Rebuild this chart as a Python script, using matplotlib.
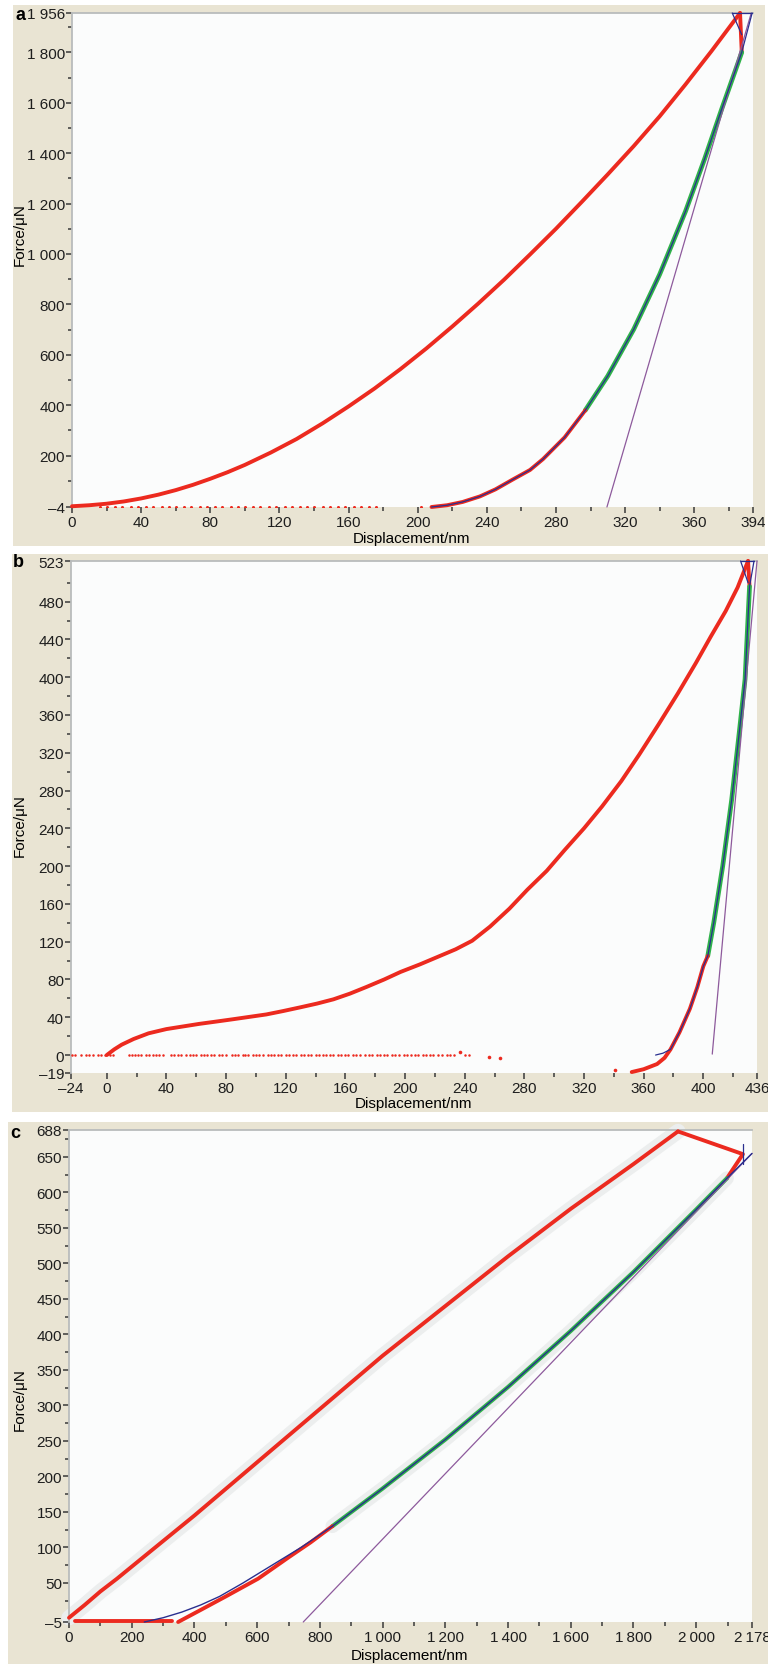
import matplotlib
matplotlib.use("Agg")
import matplotlib.pyplot as plt
from matplotlib.patches import Rectangle

plt.rcParams['font.family'] = ['Liberation Sans', 'DejaVu Sans']

W, H = 768, 1665
BEIGE = '#e9e4d3'
PLOT_BG = '#fbfcfc'
RED = '#ec2a1f'
GREEN = '#2fb24a'
NAVY = '#2a2f8f'
PURPLE = '#8d5a9c'
TICK = '#3a3a3a'

# ---------------- panel a ----------------
a_load_x = [0, 10, 20, 30, 40, 50, 60, 70, 80, 90, 100, 115, 130, 145, 160, 175,
            190, 205, 220, 235, 250, 265, 280, 295, 310, 325, 340, 355, 370, 386.5]
a_load_y = [-1, 3, 9, 18, 30, 45, 63, 84, 108, 134, 163, 212, 266, 328, 395, 466,
            543, 625, 712, 803, 898, 998, 1100, 1207, 1316, 1428, 1546, 1673, 1805, 1956]
a_peak_x = [386.5, 387.5]
a_peak_y = [1956, 1800]
a_green_x = [387.5, 376, 366, 355, 340, 325, 310, 297]
a_green_y = [1800, 1577, 1377, 1170, 919, 701, 516, 380]
a_tail_x = [297, 285, 272.5, 265, 255, 245, 236, 226, 217, 208]
a_tail_y = [380, 272, 186, 143, 105, 66, 38, 16, 3, -4]
a_fit_x = [393.5] + a_green_x + a_tail_x[1:]
a_fit_y = [1956] + a_green_y + a_tail_y[1:]
a_tan_x = [309.5, 393]
a_tan_y = [-4, 1956]
a_base_x = [16, 20, 25, 29, 34, 38, 43, 47, 52, 56, 60, 65, 69, 74, 78, 83, 87,
            92, 96, 100, 105, 109, 114, 118, 123, 127, 132, 136, 140, 145, 149,
            154, 158, 163, 167, 172, 176, 202]
a_base_level = -3
a_xticks = [0, 40, 80, 120, 160, 200, 240, 280, 320, 360, 394]
a_xlabels = ['0', '40', '80', '120', '160', '200', '240', '280', '320', '360', '394']
a_yticks = [-4, 200, 400, 600, 800, 1000, 1200, 1400, 1600, 1800, 1956]
a_ylabels = ['\u20134', '200', '400', '600', '800', '1 000', '1 200', '1 400',
             '1 600', '1 800', '1 956']
a_xminor = [20, 60, 100, 140, 180, 220, 260, 300, 340, 380]
a_yminor = [100, 300, 500, 700, 900, 1100, 1300, 1500, 1700, 1900]

# ---------------- panel b ----------------
b_load_x = [0, 5, 10, 18, 28, 40, 52, 62, 75, 85, 96, 107, 118, 130, 141, 152,
            163, 174, 186, 197, 210, 222, 234, 245, 257, 270, 282, 295, 307, 320,
            332, 345, 357, 370, 383, 395, 405, 415, 423, 430]
b_load_y = [0, 6, 11, 17, 23, 27.5, 30.5, 33, 35.8, 38, 40.5, 43, 46.5, 50.6,
            54.5, 59, 65, 72, 80, 88, 96, 104, 112, 121, 136, 155, 175, 195, 217,
            240, 263, 290, 318, 350, 383, 415, 443, 470, 495, 523]
b_peak_x = [430, 431]
b_peak_y = [523, 496]
b_green_x = [431, 428, 424, 419, 413, 407, 403]
b_green_y = [496, 398, 340, 270, 200, 140, 105]
b_tail_x = [403, 400, 396, 391, 384, 378, 374, 369, 360, 352]
b_tail_y = [105, 94, 72, 49, 24, 6, -3, -9.5, -15, -18]
b_fit_x = [434] + b_green_x + [400, 396, 391, 384, 378, 373, 368]
b_fit_y = [523] + b_green_y + [94, 72, 49, 24, 6, 2, 0]
b_tan_x = [406, 436]
b_tan_y = [1, 523]
b_base_x = [-23, -21, -17, -14, -12, -9, -6, -4, -1, 2, 4, 15, 17, 19, 21, 23,
            26, 28, 31, 33, 35, 38, 43, 45, 48, 50, 53, 56, 58, 60, 63, 65, 67,
            70, 72, 75, 77, 80, 84, 86, 88, 91, 93, 95, 98, 100, 102, 105, 108,
            110, 112, 115, 117, 120, 122, 125, 127, 130, 132, 135, 137, 140, 142,
            145, 147, 150, 152, 155, 157, 160, 162, 165, 167, 170, 173, 176, 178,
            181, 183, 186, 188, 191, 193, 196, 199, 201, 204, 207, 209, 212, 214,
            217, 219, 222, 225, 228, 230, 233, 240, 243]
b_base_level = 0
b_stray_x = [237, 256, 264, 341]
b_stray_y = [3, -2, -3, -16]
b_xticks = [-24, 0, 40, 80, 120, 160, 200, 240, 280, 320, 360, 400, 436]
b_xlabels = ['\u201324', '0', '40', '80', '120', '160', '200', '240', '280',
             '320', '360', '400', '436']
b_yticks = [-19, 0, 40, 80, 120, 160, 200, 240, 280, 320, 360, 400, 440, 480, 523]
b_ylabels = ['\u201319', '0', '40', '80', '120', '160', '200', '240', '280',
             '320', '360', '400', '440', '480', '523']
b_xminor = [20, 60, 100, 140, 180, 220, 260, 300, 340, 380, 420]
b_yminor = [20, 60, 100, 140, 180, 220, 260, 300, 340, 380, 420, 460, 500]

# ---------------- panel c ----------------
c_load_x = [0, 50, 100, 153, 250, 400, 600, 800, 1000, 1200, 1400, 1600, 1800, 1942]
c_load_y = [1, 19, 38, 56, 91, 145, 220, 295, 370, 440, 510, 577, 640, 686]
c_peak_x = [1942, 2149, 2098]
c_peak_y = [686, 654, 620]
c_green_x = [2098, 2000, 1800, 1600, 1400, 1200, 1000, 840]
c_green_y = [620, 576, 488, 405, 326, 252, 183, 130]
c_tail_x = [840, 770, 700, 603, 500, 420, 348]
c_tail_y = [130, 107, 86, 56, 31, 12, -5]
c_flat_x = [19, 328]
c_flat_y = [-4, -4]
c_fit_x = [2178] + c_green_x + [740, 640, 555, 480, 420, 360, 300, 240]
c_fit_y = [655] + c_green_y + [100, 73, 50, 31, 19, 9, 1, -5]
c_tan_x = [747, 2178]
c_tan_y = [-5, 655]
c_xticks = [0, 200, 400, 600, 800, 1000, 1200, 1400, 1600, 1800, 2000, 2178]
c_xlabels = ['0', '200', '400', '600', '800', '1\u2009000', '1\u2009200',
             '1\u2009400', '1\u2009600', '1\u2009800', '2\u2009000', '2\u2009178']
c_yticks = [-5, 50, 100, 150, 200, 250, 300, 350, 400, 450, 500, 550, 600, 650, 688]
c_ylabels = ['\u20135', '50', '100', '150', '200', '250', '300', '350', '400',
             '450', '500', '550', '600', '650', '688']
c_xminor = [100, 300, 500, 700, 900, 1100, 1300, 1500, 1700, 1900, 2100]
c_yminor = [25, 75, 125, 175, 225, 275, 325, 375, 425, 475, 525, 575, 625, 675]


def fx(px):
    return px / W


def fy(py):
    return 1 - py / H


fig = plt.figure(figsize=(W / 100, H / 100), dpi=100)
fig.patch.set_facecolor('white')

# beige backgrounds behind each panel (pixel boxes: x0, y0, x1, y1)
for x0, y0, x1, y1 in [(13, 6, 765, 547), (12, 555, 768, 1113), (8, 1123, 768, 1665)]:
    fig.add_artist(Rectangle((fx(x0), fy(y1)), fx(x1 - x0), (y1 - y0) / H,
                             transform=fig.transFigure, facecolor=BEIGE,
                             edgecolor='none', zorder=0))


def make_axes(box, xlim, ylim, xt, xl, yt, yl, xmin, ymin):
    x0, y0, x1, y1 = box
    ax = fig.add_axes([fx(x0), fy(y1), fx(x1 - x0), (y1 - y0) / H])
    ax.set_facecolor(PLOT_BG)
    ax.set_xlim(*xlim)
    ax.set_ylim(*ylim)
    ax.set_xticks(xt)
    ax.set_xticklabels(xl)
    ax.set_yticks(yt)
    ax.set_yticklabels(yl)
    ax.set_xticks(xmin, minor=True)
    ax.set_yticks(ymin, minor=True)
    ax.tick_params(which='both', direction='out', color=TICK, width=1.1,
                   labelsize=11, labelcolor='#1e1e1e')
    ax.tick_params(which='major', length=4)
    ax.tick_params(which='minor', length=3)
    ax.tick_params(axis='x', pad=2)
    ax.tick_params(axis='y', pad=1)
    for s in ['right', 'bottom']:
        ax.spines[s].set_visible(False)
    for s in ['top', 'left']:
        ax.spines[s].set_color('#b9bcbc')
        ax.spines[s].set_linewidth(1.3)
    return ax


def line(ax, x, y, color, lw, z):
    ax.plot(x, y, color=color, lw=lw, solid_capstyle='round',
            solid_joinstyle='round', zorder=z, clip_on=False)


# ---- a ----
axa = make_axes((72, 14, 753, 508), (0, 394), (-4, 1956), a_xticks, a_xlabels,
                a_yticks, a_ylabels, a_xminor, a_yminor)
axa.plot(a_base_x, [a_base_level] * len(a_base_x), 'o', color=RED, ms=2.2,
         mew=0, zorder=3)
line(axa, a_load_x, a_load_y, RED, 2.8, 3)
line(axa, a_peak_x, a_peak_y, RED, 2.8, 3)
line(axa, a_green_x, a_green_y, GREEN, 3.4, 3)
line(axa, a_tail_x, a_tail_y, RED, 2.8, 3)
line(axa, a_tan_x, a_tan_y, PURPLE, 0.9, 4)
line(axa, a_fit_x, a_fit_y, NAVY, 0.9, 5)
line(axa, [382, 393.5], [1956, 1956], NAVY, 0.9, 5)
line(axa, [382, 387.5], [1956, 1870], NAVY, 0.9, 5)

# ---- b ----
axb = make_axes((71, 562, 757, 1074), (-24, 436), (-19, 523), b_xticks, b_xlabels,
                b_yticks, b_ylabels, b_xminor, b_yminor)
axb.plot(b_base_x, [b_base_level] * len(b_base_x), 'o', color=RED, ms=1.8,
         mew=0, zorder=3)
axb.plot(b_stray_x, b_stray_y, 'o', color=RED, ms=2.6, mew=0, zorder=3)
line(axb, b_load_x, b_load_y, RED, 2.8, 3)
line(axb, b_peak_x, b_peak_y, RED, 2.8, 3)
line(axb, b_green_x, b_green_y, GREEN, 3.4, 3)
line(axb, b_tail_x, b_tail_y, RED, 2.8, 3)
line(axb, b_tan_x, b_tan_y, PURPLE, 0.9, 4)
line(axb, b_fit_x, b_fit_y, NAVY, 0.9, 5)
line(axb, [425, 434], [523, 523], NAVY, 0.9, 5)
line(axb, [425, 430], [523, 500], NAVY, 0.9, 5)

# ---- c ----
axc = make_axes((69, 1131, 752, 1623), (0, 2178), (-5, 688), c_xticks, c_xlabels,
                c_yticks, c_ylabels, c_xminor, c_yminor)
line(axc, c_load_x, c_load_y, '#eceeee', 11, 1)
line(axc, c_green_x, c_green_y, '#eceeee', 10, 1)
line(axc, c_load_x, c_load_y, RED, 2.8, 3)
line(axc, c_peak_x, c_peak_y, RED, 2.8, 3)
line(axc, c_green_x, c_green_y, GREEN, 3.0, 3)
line(axc, c_tail_x, c_tail_y, RED, 2.8, 3)
line(axc, c_flat_x, c_flat_y, RED, 2.8, 3)
line(axc, c_tan_x, c_tan_y, PURPLE, 0.9, 4)
line(axc, c_fit_x, c_fit_y, NAVY, 1.0, 5)
line(axc, [2149, 2149], [640, 668], NAVY, 0.9, 5)

# axis titles and panel letters
fig.text(fx(412), fy(539), 'Displacement/nm', ha='center', va='center', fontsize=11)
fig.text(fx(414), fy(1104), 'Displacement/nm', ha='center', va='center', fontsize=11)
fig.text(fx(410), fy(1656), 'Displacement/nm', ha='center', va='center', fontsize=11)
for ypx in [235, 826, 1400]:
    fig.text(fx(20), fy(ypx), 'Force/\u03bcN', ha='center', va='center',
             rotation=90, fontsize=11)
for (xp, yp, s) in [(20, 15, 'a'), (18, 563, 'b'), (15, 1133, 'c')]:
    fig.text(fx(xp), fy(yp), s, ha='center', va='center', fontsize=13,
             fontweight='bold')

fig.savefig('out.png', dpi=100)
